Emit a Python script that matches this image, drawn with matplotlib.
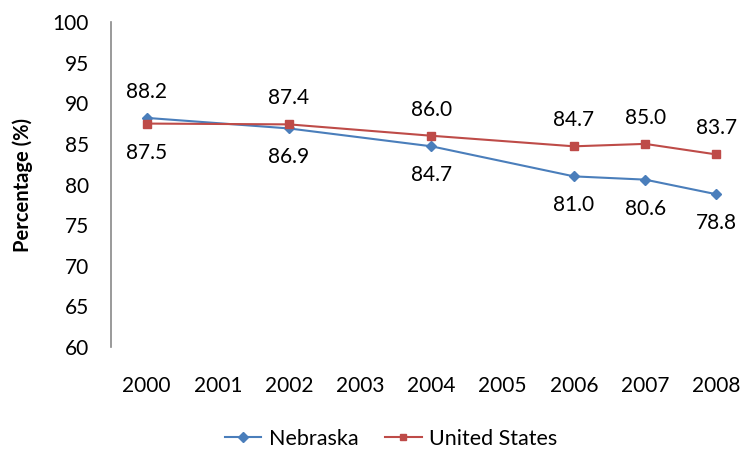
import matplotlib.pyplot as plt
import numpy as np

plt.rcParams['font.family'] = ['Lato', 'DejaVu Sans']

# categories on the x axis
years = ['2000', '2001', '2002', '2003', '2004', '2005', '2006', '2007', '2008']
pt_years = ['2000', '2002', '2004', '2006', '2007', '2008']
nebraska = [88.2, 86.9, 84.7, 81.0, 80.6, 78.8]
usa = [87.5, 87.4, 86.0, 84.7, 85.0, 83.7]
neb_pos = ['top', 'bottom', 'bottom', 'bottom', 'bottom', 'bottom']
usa_pos = ['bottom', 'top', 'top', 'top', 'top', 'top']

blue = '#4a7ebb'
red = '#be4b48'

fig = plt.figure(figsize=(7.52, 4.51), dpi=100)
ax = fig.add_axes([0.1476, 0.2306, 0.8524, 0.7206])

xi = [years.index(y) for y in pt_years]
ax.plot(xi, nebraska, color=blue, lw=1.5, marker='D', ms=5.5, label='Nebraska')
ax.plot(xi, usa, color=red, lw=1.5, marker='s', ms=5.5, label='United States')

def label(vals, pos):
    for x, v, p in zip(xi, vals, pos):
        off = 26 if p == 'top' else -29
        ax.annotate(f'{v:.1f}', (x, v), xytext=(0, off), textcoords='offset pixels',
                    ha='center', va='center', fontsize=15)

label(nebraska, neb_pos)
label(usa, usa_pos)

ax.set_xlim(-0.5, 8.5)
ax.set_ylim(60, 100)
ax.set_xticks(range(len(years)))
ax.set_xticklabels(years)
ax.set_yticks(np.arange(60, 101, 5))
ax.tick_params(axis='both', length=0, labelsize=15)
ax.tick_params(axis='x', pad=21)
ax.tick_params(axis='y', pad=16)
for s in ['top', 'right', 'bottom']:
    ax.spines[s].set_visible(False)
ax.spines['left'].set_color('#898989')
ax.spines['left'].set_linewidth(1.2)
ax.set_ylabel('Percentage (%)', fontsize=14.5, fontweight='bold', labelpad=14)

fig.legend(loc='lower center', ncol=2, frameon=False, fontsize=15.5,
           bbox_to_anchor=(0.52, -0.038), handlelength=1.7, handletextpad=0.35,
           columnspacing=1.25, markerscale=0.9)

fig.savefig('out.png', dpi=100)
